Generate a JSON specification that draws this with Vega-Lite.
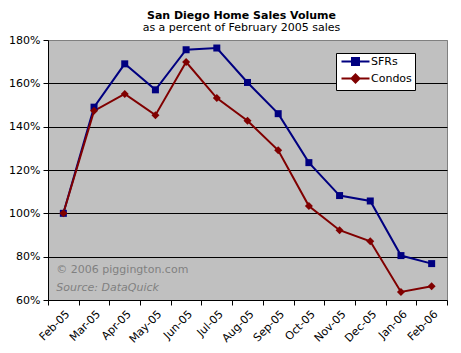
{
  "$schema": "https://vega.github.io/schema/vega-lite/v6.json",
  "autosize": "none",
  "width": 399,
  "height": 260,
  "padding": {"left": 48, "top": 40, "right": 14, "bottom": 53},
  "background": "white",
  "config": {
    "font": "DejaVu Sans",
    "view": {"fill": "#C0C0C0", "stroke": "#808080", "strokeWidth": 1}
  },
  "title": {
    "text": "San Diego Home Sales Volume",
    "subtitle": "as a percent of February 2005 sales",
    "fontSize": 11,
    "fontWeight": "bold",
    "subtitleFontSize": 11,
    "subtitleColor": "black",
    "subtitlePadding": 1,
    "color": "black",
    "anchor": "middle",
    "dx": -6,
    "offset": 1
  },
  "datasets": {
    "sales": [
      {"month": "Feb-05", "series": "SFRs", "value": 100},
      {"month": "Mar-05", "series": "SFRs", "value": 149},
      {"month": "Apr-05", "series": "SFRs", "value": 169},
      {"month": "May-05", "series": "SFRs", "value": 157},
      {"month": "Jun-05", "series": "SFRs", "value": 175.5},
      {"month": "Jul-05", "series": "SFRs", "value": 176.3},
      {"month": "Aug-05", "series": "SFRs", "value": 160.4},
      {"month": "Sep-05", "series": "SFRs", "value": 146},
      {"month": "Oct-05", "series": "SFRs", "value": 123.4},
      {"month": "Nov-05", "series": "SFRs", "value": 108.2},
      {"month": "Dec-05", "series": "SFRs", "value": 105.7},
      {"month": "Jan-06", "series": "SFRs", "value": 80.5},
      {"month": "Feb-06", "series": "SFRs", "value": 76.8},
      {"month": "Feb-05", "series": "Condos", "value": 100},
      {"month": "Mar-05", "series": "Condos", "value": 147.3},
      {"month": "Apr-05", "series": "Condos", "value": 155.1},
      {"month": "May-05", "series": "Condos", "value": 145.3},
      {"month": "Jun-05", "series": "Condos", "value": 169.8},
      {"month": "Jul-05", "series": "Condos", "value": 153.2},
      {"month": "Aug-05", "series": "Condos", "value": 142.7},
      {"month": "Sep-05", "series": "Condos", "value": 129.1},
      {"month": "Oct-05", "series": "Condos", "value": 103.4},
      {"month": "Nov-05", "series": "Condos", "value": 92.2},
      {"month": "Dec-05", "series": "Condos", "value": 87.1},
      {"month": "Jan-06", "series": "Condos", "value": 63.7},
      {"month": "Feb-06", "series": "Condos", "value": 66.3}
    ],
    "notes": [
      {"month": "Feb-05", "value": 73.85, "note": "© 2006 piggington.com", "kind": "credit"},
      {"month": "Feb-05", "value": 65.7, "note": "Source: DataQuick", "kind": "source"}
    ]
  },
  "encoding": {
    "x": {
      "field": "month",
      "type": "ordinal",
      "sort": null,
      "scale": {
        "type": "band",
        "paddingInner": 0,
        "paddingOuter": 0,
        "domain": ["Feb-05", "Mar-05", "Apr-05", "May-05", "Jun-05", "Jul-05", "Aug-05", "Sep-05", "Oct-05", "Nov-05", "Dec-05", "Jan-06", "Feb-06"]
      },
      "axis": {
        "title": null,
        "tickBand": "extent",
        "labelAngle": -45,
        "labelFontSize": 11,
        "labelColor": "black",
        "labelPadding": 3,
        "tickColor": "black",
        "tickSize": 5,
        "domainColor": "black",
        "grid": false
      }
    },
    "y": {
      "field": "value",
      "type": "quantitative",
      "scale": {"domain": [60, 180], "nice": false, "zero": false},
      "axis": {
        "title": null,
        "values": [60, 80, 100, 120, 140, 160, 180],
        "labelExpr": "datum.value + '%'",
        "labelFontSize": 11,
        "labelColor": "black",
        "labelPadding": 3,
        "tickColor": "black",
        "tickSize": 5,
        "domainColor": "black",
        "grid": true,
        "gridColor": {"condition": {"test": "datum.value === 180 || datum.value === 60", "value": "#808080"}, "value": "black"},
        "gridOpacity": 1,
        "gridWidth": 1
      }
    }
  },
  "layer": [
    {
      "data": {"name": "sales"},
      "mark": {"type": "line", "strokeWidth": 2},
      "encoding": {
        "color": {
          "field": "series",
          "type": "nominal",
          "scale": {"domain": ["SFRs", "Condos"], "range": ["#000080", "#800000"]},
          "legend": {
            "title": null,
            "orient": "none",
            "legendX": 288,
            "legendY": 13,
            "fillColor": "white",
            "strokeColor": "black",
            "padding": 3,
            "labelFontSize": 11,
            "labelColor": "black",
            "symbolSize": 64,
            "symbolStrokeWidth": 2,
            "symbolOffset": 11,
            "labelOffset": 10,
            "rowPadding": 1,
            "encode": {
              "symbols": {
                "update": {
                  "shape": {"signal": "datum.value === 'SFRs' ? 'M-3.5,0H3.5M-0.875,-0.875H0.875V0.875H-0.875Z' : 'M-3.5,0H3.5M0,-1L1,0L0,1L-1,0Z'"},
                  "size": {"value": 64},
                  "fill": {"signal": "datum.value === 'SFRs' ? '#000080' : '#800000'"},
                  "stroke": {"signal": "datum.value === 'SFRs' ? '#000080' : '#800000'"},
                  "strokeWidth": {"value": 2},
                  "opacity": {"value": 1}
                }
              }
            }
          }
        }
      }
    },
    {
      "data": {"name": "sales"},
      "transform": [{"filter": "datum.series === 'SFRs'"}],
      "mark": {"type": "point", "filled": true, "opacity": 1, "shape": "square", "size": 49},
      "encoding": {
        "color": {"field": "series", "type": "nominal"}
      }
    },
    {
      "data": {"name": "sales"},
      "transform": [{"filter": "datum.series === 'Condos'"}],
      "mark": {"type": "point", "filled": true, "opacity": 1, "shape": "diamond", "size": 64},
      "encoding": {
        "color": {"field": "series", "type": "nominal"}
      }
    },
    {
      "data": {"name": "notes"},
      "transform": [{"filter": "datum.kind === 'credit'"}],
      "mark": {"type": "text", "align": "left", "baseline": "middle", "dx": -7, "fontSize": 11, "color": "#808080"},
      "encoding": {
        "text": {"field": "note"}
      }
    },
    {
      "data": {"name": "notes"},
      "transform": [{"filter": "datum.kind === 'source'"}],
      "mark": {"type": "text", "align": "left", "baseline": "middle", "dx": -7, "fontSize": 11, "fontStyle": "italic", "color": "#808080"},
      "encoding": {
        "text": {"field": "note"}
      }
    }
  ]
}
